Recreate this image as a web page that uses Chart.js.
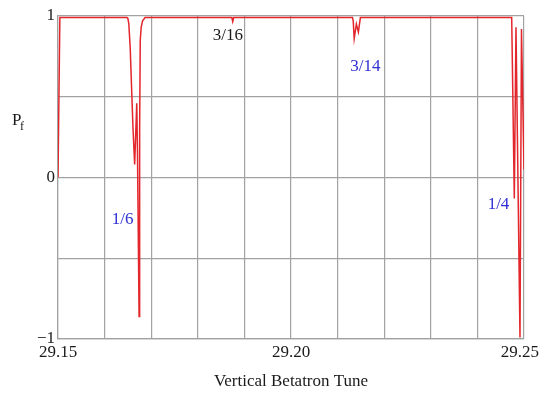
<!DOCTYPE html>
<html>
<head>
<meta charset="utf-8">
<script src="https://cdn.jsdelivr.net/npm/chart.js@4/dist/chart.umd.min.js"></script>
<style>
  html, body { margin: 0; padding: 0; background: #fff; }
  #wrap { width: 541px; height: 396px; }
</style>
</head>
<body>
<div id="wrap"><canvas id="chart" width="541" height="396"></canvas></div>
<script>
// tune scan (x) and final polarization P_f (y)
const tune = [
  29.1500, 29.1504, 29.1648, 29.1650, 29.1652, 29.1655, 29.1658, 29.1661, 29.16645,
  29.1669, 29.16705, 29.1674, 29.16752, 29.16765, 29.16785, 29.16815, 29.1687,
  29.1873, 29.1875, 29.1877,
  29.2132, 29.21335, 29.21356, 29.21403, 29.21446, 29.21489,
  29.24736, 29.24792, 29.24828, 29.24914, 29.24946, 29.2500
];
const pf = [
  0.00, 0.99, 0.99, 0.985, 0.95, 0.80, 0.55, 0.30, 0.08,
  0.46, 0.17, -0.86, 0.30, 0.85, 0.93, 0.97, 0.99,
  0.99, 0.965, 0.99,
  0.99, 0.97, 0.86, 0.95, 0.90, 0.99,
  0.99, -0.13, 0.93, -0.99, 0.92, 0.05
];

const xTickValues = [29.15, 29.20, 29.25];
const xTickLabels = ['29.15', '29.20', '29.25\u2002'];
const yTickValues = [1, 0, -1];
const yTickLabels = ['1', '0', '\u22121'];

// resonance labels, placed in data coordinates
const resLabels = ['1/6', '3/16', '3/14', '1/4'];
const resTune = [29.16389, 29.18644, 29.21596, 29.24453];
const resPf = [-0.263, 0.882, 0.690, -0.170];
const resColors = ['#2f2fd2', '#1a1a1a', '#2f2fd2', '#2f2fd2'];

const serif = '"Liberation Serif", "Times New Roman", serif';
const gridGray = '#a2a2a2';

function tickText(val, values, labels) {
  const i = values.findIndex(v => Math.abs(v - val) < 1e-6);
  return i >= 0 ? labels[i] : '';
}

const labelsPlugin = {
  id: 'resLabels',
  afterDatasetsDraw(chart) {
    const { ctx, scales: { x, y }, chartArea } = chart;
    ctx.save();
    ctx.font = '17px ' + serif;
    ctx.textAlign = 'center';
    ctx.textBaseline = 'middle';
    resLabels.forEach((t, i) => {
      ctx.fillStyle = resColors[i];
      ctx.fillText(t, x.getPixelForValue(resTune[i]), y.getPixelForValue(resPf[i]));
    });
    // y axis title P_f
    const base = y.getPixelForValue(0.325);
    ctx.fillStyle = '#1a1a1a';
    ctx.textAlign = 'left';
    ctx.textBaseline = 'alphabetic';
    ctx.fillText('P', chartArea.left - 46, base);
    ctx.font = '12px ' + serif;
    ctx.fillText('f', chartArea.left - 38, base + 5);
    ctx.restore();
  }
};

new Chart(document.getElementById('chart'), {
  type: 'line',
  data: {
    datasets: [{
      data: tune.map((t, i) => ({ x: t, y: pf[i] })),
      borderColor: '#e3262b',
      borderWidth: 1.5,
      pointRadius: 0,
      tension: 0,
      fill: false
    }]
  },
  options: {
    responsive: false,
    animation: false,
    layout: { padding: { top: 16, right: 17, left: 0, bottom: 0 } },
    plugins: { legend: { display: false }, tooltip: { enabled: false } },
    scales: {
      x: {
        type: 'linear',
        min: 29.15,
        max: 29.25,
        grid: { color: gridGray, lineWidth: 1.2, drawTicks: false },
        border: { color: gridGray, width: 1.2 },
        ticks: {
          stepSize: 0.01,
          autoSkip: false,
          maxRotation: 0,
          padding: 3,
          color: '#1a1a1a',
          font: { family: serif, size: 17 },
          callback: v => tickText(v, xTickValues, xTickLabels)
        },
        title: {
          display: true,
          text: 'Vertical Betatron Tune',
          color: '#1a1a1a',
          font: { family: serif, size: 17 },
          padding: { top: 0, bottom: 4 }
        },
        afterFit(scale) {
          scale.height = 57;
          scale.paddingLeft = 0;
          scale.paddingRight = 0;
        }
      },
      y: {
        min: -1,
        max: 1,
        grid: { color: gridGray, lineWidth: 1.2, drawTicks: false },
        border: { color: gridGray, width: 1.2 },
        ticks: {
          stepSize: 0.5,
          autoSkip: false,
          padding: 3,
          color: '#1a1a1a',
          font: { family: serif, size: 17 },
          callback: v => tickText(v, yTickValues, yTickLabels)
        },
        afterFit(scale) {
          scale.width = 58;
          scale.paddingTop = 0;
          scale.paddingBottom = 0;
        }
      }
    }
  },
  plugins: [labelsPlugin]
});
</script>
</body>
</html>
